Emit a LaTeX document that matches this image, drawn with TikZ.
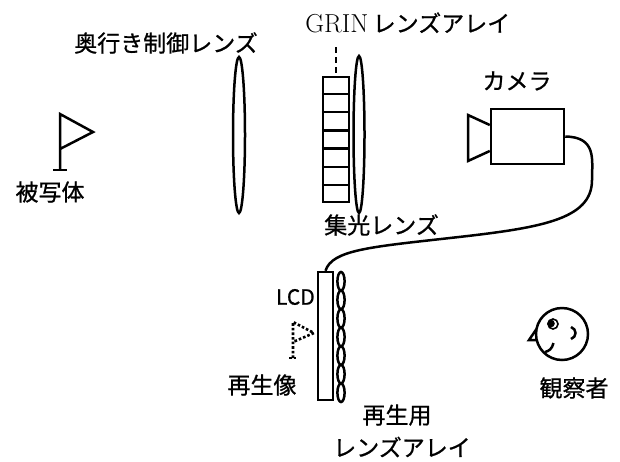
\documentclass[tikz,border=0pt]{standalone}
\usepackage{fontspec}
\newfontfamily\jp[FakeBold=0.8]{Noto Sans CJK JP}
\usetikzlibrary{shapes.geometric,calc}
\begin{document}
\begin{tikzpicture}[x=1pt,y=-1pt,
  line width=2.5pt,
  lbl/.style={font=\jp\fontsize{23}{25}\selectfont, inner sep=0pt},
  lensbody/.style={draw, ellipse, inner sep=0pt},
  boxpart/.style={draw, rectangle, inner sep=0pt},
  ghost/.style={dotted, line width=2.6pt}]
\useasboundingbox (0,0) rectangle (620,461);

% object flag
\coordinate (flagtop) at (60,114);
\coordinate (flagfoot) at (60,170);
\draw[line join=miter] (flagfoot) -- (flagtop) -- (93,132) -- (60,149);
\draw (53,170) -- (67,170);
\node[lbl] (objlbl) at (50,192) {被写体};

% depth-control lens
\node[lensbody, minimum width=12, minimum height=156] (dlens) at (239,135) {};
\node[lbl, anchor=west] (dlbl) at (73,43) {奥行き制御レンズ};

% GRIN lens array, seven cells
\node[boxpart, minimum width=26, minimum height=125] (grin) at (336,139.5) {};
\foreach \k in {1,...,6}
  \draw ($(grin.north west)!\k/7!(grin.south west)$) -- ($(grin.north east)!\k/7!(grin.south east)$);
\coordinate (grintick) at (336,47);
\draw[dashed, dash pattern=on 6pt off 4pt] (grintick) -- (grin.north);
\node[anchor=base west, inner sep=0pt] (grinlbl) at (304,32)
  {\fontsize{26}{28}\selectfont GRIN\,{\jp\fontsize{23}{25}\selectfont レンズアレイ}};

% condenser lens
\node[lensbody, minimum width=11, minimum height=157] (clens) at (359,134.5) {};
\node[lbl, anchor=west] (clbl) at (323,225) {集光レンズ};

% camera
\node[boxpart, minimum width=73, minimum height=55] (cam) at (527.5,136.5) {};
\draw[line join=miter] (cam.west |- 0,125) -- (468,115) -- (468,161) -- (cam.west |- 0,151);
\node[lbl] (camlbl) at (517,81) {カメラ};

% LCD panel with lenticular array
\node[boxpart, minimum width=15, minimum height=128] (lcd) at (325.5,336) {};
\node[font=\jp\fontsize{21}{23}\selectfont, anchor=east, inner sep=0pt] (lcdlbl) at (316,297) {LCD};
\foreach \k in {0,...,6}
  \draw (341,{272+18.57*(\k+0.5)}) ellipse [x radius=3.6, y radius=9.3];
\coordinate (lentop) at (341,272);
\node[lbl] (arr1) at (397,415) {再生用};
\node[lbl] (arr2) at (402,447) {レンズアレイ};

% cable from camera to LCD
\draw (cam.east) .. controls (597,137) and (592,160) .. (592,180)
  .. controls (592,220) and (540,228) .. (450,238)
  .. controls (370,247) and (332,250) .. (lcd.north);

% reconstructed image (dotted flag)
\draw[ghost] (293,358) -- (293,322) -- (314,333) -- (293,342);
\draw[ghost] (289,358) -- (297,358);
\node[lbl] (imglbl) at (262,385) {再生像};

% observer
\node[draw, circle, minimum size=52, inner sep=0pt] (head) at (562,334) {};
\draw[line width=1.6pt] (553,324) circle [radius=5];
\fill (551,323.5) circle [radius=3.8];
\draw[line join=miter] (536.5,329) -- (529,340) -- (537,340);
\draw (553.5,343) .. controls (552,349) and (549,351) .. (545,352);
\draw (571,327) .. controls (577,329) and (577,337) .. (571,339);
\node[lbl] (obslbl) at (574,388) {観察者};
\end{tikzpicture}
\end{document}
